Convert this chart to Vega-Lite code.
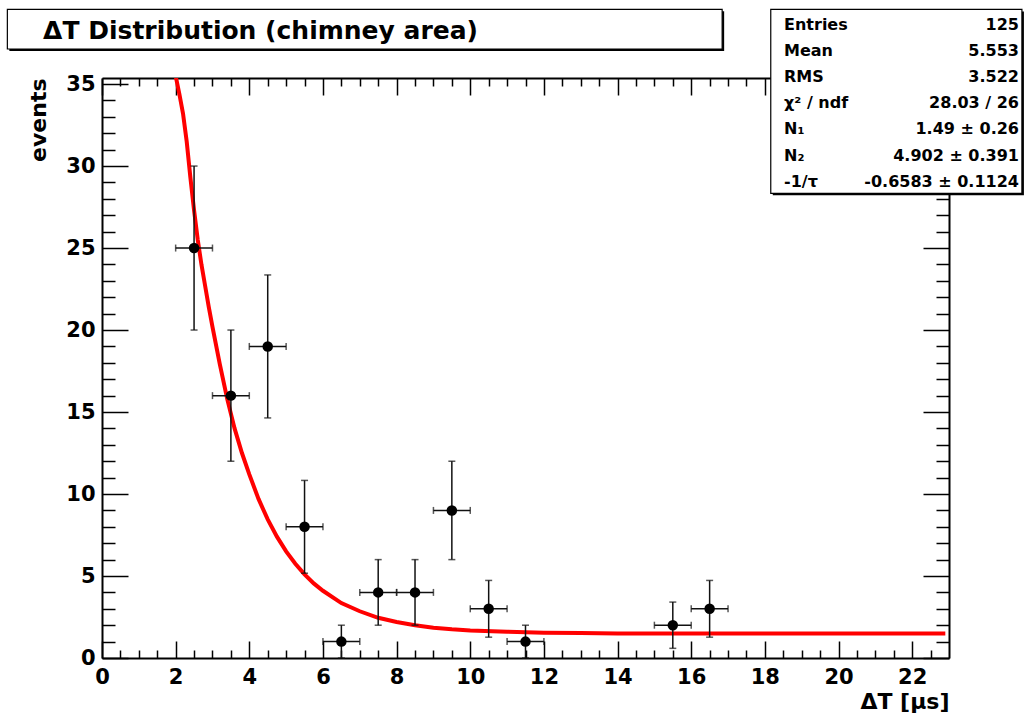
{
  "$schema": "https://vega.github.io/schema/vega-lite/v6.json",
  "width": 847,
  "height": 580,
  "autosize": {"type": "none"},
  "padding": {"left": 102, "top": 78, "right": 77, "bottom": 59},
  "background": "white",
  "config": {"view": {"stroke": null}, "axis": {"grid": false}},
  "datasets": {
    "hist": [
      {"x": 2.5, "y": 25, "xlo": 2, "xhi": 3, "ylo": 20, "yhi": 30},
      {"x": 3.5, "y": 16, "xlo": 3, "xhi": 4, "ylo": 12, "yhi": 20},
      {"x": 4.5, "y": 19, "xlo": 4, "xhi": 5, "ylo": 14.64, "yhi": 23.36},
      {"x": 5.5, "y": 8, "xlo": 5, "xhi": 6, "ylo": 5.17, "yhi": 10.83},
      {"x": 6.5, "y": 1, "xlo": 6, "xhi": 7, "ylo": 0, "yhi": 2},
      {"x": 7.5, "y": 4, "xlo": 7, "xhi": 8, "ylo": 2, "yhi": 6},
      {"x": 8.5, "y": 4, "xlo": 8, "xhi": 9, "ylo": 2, "yhi": 6},
      {"x": 9.5, "y": 9, "xlo": 9, "xhi": 10, "ylo": 6, "yhi": 12},
      {"x": 10.5, "y": 3, "xlo": 10, "xhi": 11, "ylo": 1.27, "yhi": 4.73},
      {"x": 11.5, "y": 1, "xlo": 11, "xhi": 12, "ylo": 0, "yhi": 2},
      {"x": 15.5, "y": 2, "xlo": 15, "xhi": 16, "ylo": 0.59, "yhi": 3.41},
      {"x": 16.5, "y": 3, "xlo": 16, "xhi": 17, "ylo": 1.27, "yhi": 4.73}
    ],
    "fit": [
      {"t": 2.0, "f": 35.5}, {"t": 2.1, "f": 34.4}, {"t": 2.2, "f": 33.2}, {"t": 2.3, "f": 31.5},
      {"t": 2.4, "f": 29.3}, {"t": 2.5, "f": 27.3}, {"t": 2.6, "f": 25.5}, {"t": 2.7, "f": 24.0},
      {"t": 2.8, "f": 22.7}, {"t": 2.9, "f": 21.4}, {"t": 3.0, "f": 20.2}, {"t": 3.2, "f": 17.9},
      {"t": 3.4, "f": 15.8}, {"t": 3.6, "f": 14.0}, {"t": 3.8, "f": 12.5}, {"t": 4.0, "f": 11.2},
      {"t": 4.25, "f": 9.7}, {"t": 4.5, "f": 8.45}, {"t": 4.75, "f": 7.4}, {"t": 5.0, "f": 6.5},
      {"t": 5.25, "f": 5.75}, {"t": 5.5, "f": 5.1}, {"t": 5.75, "f": 4.55}, {"t": 6.0, "f": 4.1},
      {"t": 6.5, "f": 3.35}, {"t": 7.0, "f": 2.85}, {"t": 7.5, "f": 2.45}, {"t": 8.0, "f": 2.2},
      {"t": 8.5, "f": 2.0}, {"t": 9.0, "f": 1.85}, {"t": 9.5, "f": 1.75}, {"t": 10.0, "f": 1.68},
      {"t": 11.0, "f": 1.6}, {"t": 12.0, "f": 1.54}, {"t": 13.0, "f": 1.52}, {"t": 14.0, "f": 1.5},
      {"t": 16.0, "f": 1.49}, {"t": 22.9, "f": 1.49}
    ],
    "stats": [
      {"label": "Entries", "value": "125"},
      {"label": "Mean", "value": "5.553"},
      {"label": "RMS", "value": "3.522"},
      {"label": "χ² / ndf", "value": "28.03 / 26"},
      {"label": "N₁", "value": "1.49 ± 0.26"},
      {"label": "N₂", "value": "4.902 ± 0.391"},
      {"label": "-1/τ", "value": "-0.6583 ± 0.1124"}
    ],
    "one": [{"name": "box"}]
  },
  "layer": [
    {
      "layer": [
        {
          "data": {"name": "fit"},
          "mark": {"type": "line", "color": "#ff0000", "strokeWidth": 4, "clip": true},
          "encoding": {
            "x": {"field": "t", "type": "quantitative", "scale": {"domain": [0, 23], "nice": false, "zero": false},
              "axis": {"orient": "bottom", "values": [0, 2, 4, 6, 8, 10, 12, 14, 16, 18, 20, 22], "ticks": false, "tickSize": 0, "labelPadding": 8, "labelFlush": false, "labelOverlap": false, "labelFont": "DejaVu Sans", "labelFontWeight": "bold", "labelFontSize": 21, "labelColor": "black", "domain": true, "domainWidth": 2, "domainColor": "black", "grid": false,
                "title": "ΔT [μs]", "titleFont": "DejaVu Sans", "titleFontWeight": "bold", "titleFontSize": 22, "titleColor": "black", "titleAnchor": "end", "titleAlign": "right", "titleBaseline": "alphabetic", "titleX": 847, "titleY": 50}},
            "y": {"field": "f", "type": "quantitative", "scale": {"domain": [0, 35.37], "nice": false, "zero": false},
              "axis": {"orient": "left", "values": [0, 5, 10, 15, 20, 25, 30, 35], "ticks": false, "tickSize": 0, "labelPadding": 7, "labelFlush": false, "labelOverlap": false, "labelFont": "DejaVu Sans", "labelFontWeight": "bold", "labelFontSize": 21, "labelColor": "black", "domain": true, "domainWidth": 2, "domainColor": "black", "grid": false,
                "title": "events", "titleFont": "DejaVu Sans", "titleFontWeight": "bold", "titleFontSize": 22, "titleColor": "black", "titleAngle": 270, "titleAlign": "right", "titleBaseline": "alphabetic", "titleX": -57, "titleY": 0}}
          }
        },
        {
          "data": {"name": "hist"},
          "mark": {"type": "rule", "color": "#111111", "strokeWidth": 1.5},
          "encoding": {
            "x": {"field": "x", "type": "quantitative", "scale": {"domain": [0, 23], "nice": false, "zero": false},
              "axis": {"orient": "bottom", "values": [0, 2, 4, 6, 8, 10, 12, 14, 16, 18, 20, 22], "tickSize": -17, "tickWidth": 1.5, "tickColor": "black", "labels": false, "domain": false, "title": null, "grid": false}},
            "y": {"field": "ylo", "type": "quantitative", "scale": {"domain": [0, 35.37], "nice": false, "zero": false},
              "axis": {"orient": "left", "values": [0, 5, 10, 15, 20, 25, 30, 35], "tickSize": -26, "tickWidth": 1.5, "tickColor": "black", "labels": false, "domain": false, "title": null, "grid": false}},
            "y2": {"field": "yhi"}
          }
        },
        {
          "data": {"name": "hist"},
          "mark": {"type": "rule", "color": "#111111", "strokeWidth": 1.5},
          "encoding": {
            "x": {"field": "xlo", "type": "quantitative", "scale": {"domain": [0, 23], "nice": false, "zero": false},
              "axis": {"orient": "bottom", "values": [0.5, 1, 1.5, 2.5, 3, 3.5, 4.5, 5, 5.5, 6.5, 7, 7.5, 8.5, 9, 9.5, 10.5, 11, 11.5, 12.5, 13, 13.5, 14.5, 15, 15.5, 16.5, 17, 17.5, 18.5, 19, 19.5, 20.5, 21, 21.5, 22.5], "tickSize": -8, "tickWidth": 1.5, "tickColor": "black", "labels": false, "domain": false, "title": null, "grid": false}},
            "x2": {"field": "xhi"},
            "y": {"field": "y", "type": "quantitative", "scale": {"domain": [0, 35.37], "nice": false, "zero": false},
              "axis": {"orient": "left", "values": [1, 2, 3, 4, 6, 7, 8, 9, 11, 12, 13, 14, 16, 17, 18, 19, 21, 22, 23, 24, 26, 27, 28, 29, 31, 32, 33, 34], "tickSize": -13, "tickWidth": 1.5, "tickColor": "black", "labels": false, "domain": false, "title": null, "grid": false}}
          }
        },
        {
          "data": {"name": "hist"},
          "mark": {"type": "tick", "orient": "horizontal", "color": "#111111", "size": 7, "thickness": 1.5},
          "encoding": {
            "x": {"field": "x", "type": "quantitative", "scale": {"domain": [0, 23], "nice": false, "zero": false},
              "axis": {"orient": "top", "values": [0, 2, 4, 6, 8, 10, 12, 14, 16, 18, 20, 22], "tickSize": -17, "tickWidth": 1.5, "tickColor": "black", "labels": false, "domain": true, "domainWidth": 2, "domainColor": "black", "title": null, "grid": false}},
            "y": {"field": "ylo", "type": "quantitative", "scale": {"domain": [0, 35.37], "nice": false, "zero": false},
              "axis": {"orient": "right", "values": [0, 5, 10, 15, 20, 25, 30, 35], "tickSize": -26, "tickWidth": 1.5, "tickColor": "black", "labels": false, "domain": true, "domainWidth": 2, "domainColor": "black", "title": null, "grid": false}}
          }
        },
        {
          "data": {"name": "hist"},
          "mark": {"type": "tick", "orient": "horizontal", "color": "#111111", "size": 7, "thickness": 1.5},
          "encoding": {
            "x": {"field": "x", "type": "quantitative", "scale": {"domain": [0, 23], "nice": false, "zero": false},
              "axis": {"orient": "top", "values": [0.5, 1, 1.5, 2.5, 3, 3.5, 4.5, 5, 5.5, 6.5, 7, 7.5, 8.5, 9, 9.5, 10.5, 11, 11.5, 12.5, 13, 13.5, 14.5, 15, 15.5, 16.5, 17, 17.5, 18.5, 19, 19.5, 20.5, 21, 21.5, 22.5], "tickSize": -8, "tickWidth": 1.5, "tickColor": "black", "labels": false, "domain": false, "title": null, "grid": false}},
            "y": {"field": "yhi", "type": "quantitative", "scale": {"domain": [0, 35.37], "nice": false, "zero": false},
              "axis": {"orient": "right", "values": [1, 2, 3, 4, 6, 7, 8, 9, 11, 12, 13, 14, 16, 17, 18, 19, 21, 22, 23, 24, 26, 27, 28, 29, 31, 32, 33, 34], "tickSize": -13, "tickWidth": 1.5, "tickColor": "black", "labels": false, "domain": false, "title": null, "grid": false}}
          }
        },
        {
          "data": {"name": "hist"},
          "mark": {"type": "tick", "orient": "vertical", "color": "#111111", "size": 7, "thickness": 1.5},
          "encoding": {
            "x": {"field": "xlo", "type": "quantitative", "scale": {"domain": [0, 23], "nice": false, "zero": false}, "axis": null},
            "y": {"field": "y", "type": "quantitative", "scale": {"domain": [0, 35.37], "nice": false, "zero": false}, "axis": null}
          }
        },
        {
          "data": {"name": "hist"},
          "mark": {"type": "tick", "orient": "vertical", "color": "#111111", "size": 7, "thickness": 1.5},
          "encoding": {
            "x": {"field": "xhi", "type": "quantitative", "scale": {"domain": [0, 23], "nice": false, "zero": false}, "axis": null},
            "y": {"field": "y", "type": "quantitative", "scale": {"domain": [0, 35.37], "nice": false, "zero": false}, "axis": null}
          }
        },
        {
          "data": {"name": "hist"},
          "mark": {"type": "circle", "color": "black", "size": 110, "opacity": 1},
          "encoding": {
            "x": {"field": "x", "type": "quantitative", "scale": {"domain": [0, 23], "nice": false, "zero": false}, "axis": null},
            "y": {"field": "y", "type": "quantitative", "scale": {"domain": [0, 35.37], "nice": false, "zero": false}, "axis": null}
          }
        },
        {
          "data": {"name": "one"},
          "mark": {"type": "rect", "fill": "black", "xOffset": 2, "yOffset": 2, "x2Offset": 2, "y2Offset": 2},
          "encoding": {
            "x": {"datum": 18.16, "type": "quantitative", "scale": {"domain": [0, 23], "nice": false, "zero": false}, "axis": null},
            "x2": {"datum": 24.98},
            "y": {"datum": 39.55, "type": "quantitative", "scale": {"domain": [0, 35.37], "nice": false, "zero": false}, "axis": null},
            "y2": {"datum": 28.34}
          }
        },
        {
          "data": {"name": "one"},
          "mark": {"type": "rect", "fill": "white", "stroke": "black", "strokeWidth": 1.2},
          "encoding": {
            "x": {"datum": 18.16, "type": "quantitative", "scale": {"domain": [0, 23], "nice": false, "zero": false}, "axis": null},
            "x2": {"datum": 24.98},
            "y": {"datum": 39.55, "type": "quantitative", "scale": {"domain": [0, 35.37], "nice": false, "zero": false}, "axis": null},
            "y2": {"datum": 28.34}
          }
        },
        {
          "data": {"name": "one"},
          "mark": {"type": "rect", "fill": "black", "xOffset": 2, "yOffset": 2, "x2Offset": 2, "y2Offset": 2},
          "encoding": {
            "x": {"datum": -2.57, "type": "quantitative", "scale": {"domain": [0, 23], "nice": false, "zero": false}, "axis": null},
            "x2": {"datum": 16.84},
            "y": {"datum": 39.56, "type": "quantitative", "scale": {"domain": [0, 35.37], "nice": false, "zero": false}, "axis": null},
            "y2": {"datum": 37.14}
          }
        },
        {
          "data": {"name": "one"},
          "mark": {"type": "rect", "fill": "white", "stroke": "black", "strokeWidth": 1.2},
          "encoding": {
            "x": {"datum": -2.57, "type": "quantitative", "scale": {"domain": [0, 23], "nice": false, "zero": false}, "axis": null},
            "x2": {"datum": 16.84},
            "y": {"datum": 39.56, "type": "quantitative", "scale": {"domain": [0, 35.37], "nice": false, "zero": false}, "axis": null},
            "y2": {"datum": 37.14}
          }
        },
        {
          "data": {"name": "one"},
          "mark": {"type": "text", "text": "ΔT Distribution (chimney area)", "align": "left", "baseline": "alphabetic", "font": "DejaVu Sans", "fontWeight": "bold", "fontSize": 25, "color": "black"},
          "encoding": {
            "x": {"datum": -1.6, "type": "quantitative", "scale": {"domain": [0, 23], "nice": false, "zero": false}, "axis": null},
            "y": {"datum": 37.73, "type": "quantitative", "scale": {"domain": [0, 35.37], "nice": false, "zero": false}, "axis": null}
          }
        }
      ],
      "resolve": {"axis": {"x": "independent", "y": "independent"}}
    },
    {
      "data": {"name": "stats"},
      "mark": {"type": "text", "align": "left", "baseline": "alphabetic", "font": "DejaVu Sans", "fontWeight": "bold", "fontSize": 16, "color": "black"},
      "encoding": {
        "x": {"datum": 18.52, "type": "quantitative", "scale": {"domain": [0, 23], "nice": false, "zero": false}, "axis": null},
        "y": {"field": "label", "type": "nominal", "scale": {"type": "point", "domain": ["Entries", "Mean", "RMS", "χ² / ndf", "N₁", "N₂", "-1/τ"], "range": [-48, 108.7], "padding": 0}, "axis": null},
        "text": {"field": "label"}
      }
    },
    {
      "data": {"name": "stats"},
      "mark": {"type": "text", "align": "right", "baseline": "alphabetic", "font": "DejaVu Sans", "fontWeight": "bold", "fontSize": 16, "color": "black"},
      "encoding": {
        "x": {"datum": 24.9, "type": "quantitative", "scale": {"domain": [0, 23], "nice": false, "zero": false}, "axis": null},
        "y": {"field": "label", "type": "nominal", "scale": {"type": "point", "domain": ["Entries", "Mean", "RMS", "χ² / ndf", "N₁", "N₂", "-1/τ"], "range": [-48, 108.7], "padding": 0}, "axis": null},
        "text": {"field": "value"}
      }
    }
  ],
  "resolve": {"scale": {"y": "independent"}}
}
